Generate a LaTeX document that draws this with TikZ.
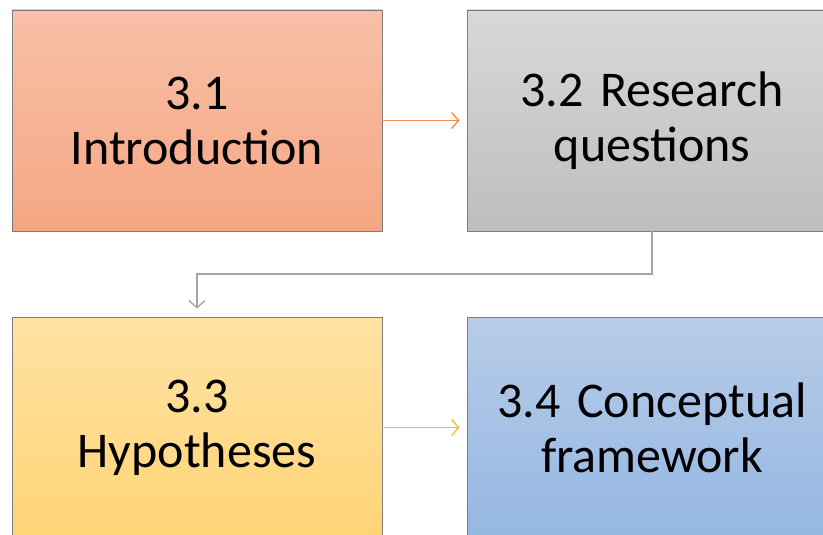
\documentclass[tikz,border=0pt]{standalone}
\usepackage{fontspec}
\setmainfont{Carlito}
\usetikzlibrary{arrows.meta,positioning}
\definecolor{salmonTop}{RGB}{248,192,168}
\definecolor{salmonBot}{RGB}{245,166,130}
\definecolor{greyTop}{RGB}{216,216,216}
\definecolor{greyBot}{RGB}{190,190,190}
\definecolor{goldTop}{RGB}{255,226,163}
\definecolor{goldBot}{RGB}{255,212,118}
\definecolor{blueTop}{RGB}{184,204,232}
\definecolor{blueBot}{RGB}{148,183,226}
\definecolor{edge}{RGB}{125,125,125}
\definecolor{orangeLink}{RGB}{242,140,75}
\definecolor{greyLink}{RGB}{165,165,165}
\definecolor{goldLink}{RGB}{255,190,30}
\tikzset{
  x=1pt, y=1pt,
  stage/.style={draw=edge, line width=0.9pt, minimum width=370pt, minimum height=221pt,
    inner sep=0pt, align=center, text width=360pt,
    font=\fontsize{50}{55}\selectfont},
  link/.style={line width=1.4pt, -{Straight Barb[length=7pt,width=16pt,line width=1.4pt]}},
}
\begin{document}
\begin{tikzpicture}
\useasboundingbox (0,0) rectangle (823,-535);
\begin{scope}
\clip (0,0) rectangle (823,-535);
\node[stage, top color=salmonTop, bottom color=salmonBot] (intro) at (197,-120.5) {3.1\\Introduction};
\node[stage, top color=greyTop, bottom color=greyBot] (rq) at (652,-120.5) {3.2 Research\\questions};
\node[stage, top color=goldTop, bottom color=goldBot] (hyp) at (197,-427.5) {3.3\\Hypotheses};
\node[stage, top color=blueTop, bottom color=blueBot] (cf) at (652,-427.5) {3.4 Conceptual\\framework};
\end{scope}
\coordinate (bend) at (0,-274);
\draw[link, orangeLink, shorten >=7pt] (intro.east) -- (rq.west);
\draw[link, goldLink, shorten >=7pt] (hyp.east) -- (cf.west);
\draw[link, greyLink, shorten >=8pt] (rq.south) |- (bend -| hyp.north) -- (hyp.north);
\end{tikzpicture}
\end{document}
